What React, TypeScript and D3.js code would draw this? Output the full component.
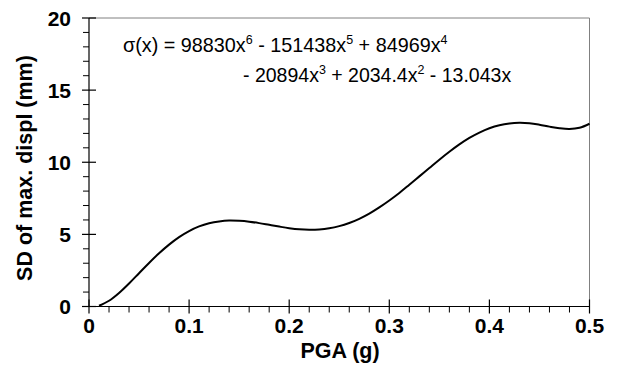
import React from "react";
import * as d3 from "d3";

// Peak ground acceleration (g) and the standard deviation of the maximum displacement (mm)
const pga = [
  0.01, 0.02, 0.03, 0.04, 0.05, 0.06, 0.07, 0.08, 0.09, 0.1,
  0.11, 0.12, 0.13, 0.14, 0.15, 0.16, 0.17, 0.18, 0.19, 0.2,
  0.21, 0.22, 0.23, 0.24, 0.25, 0.26, 0.27, 0.28, 0.29, 0.3,
  0.31, 0.32, 0.33, 0.34, 0.35, 0.36, 0.37, 0.38, 0.39, 0.4,
  0.41, 0.42, 0.43, 0.44, 0.45, 0.46, 0.47, 0.48, 0.49, 0.5,
];
const sdDispl = [
  0.05, 0.4, 0.94, 1.6, 2.31, 3.02, 3.69, 4.29, 4.81, 5.23,
  5.55, 5.77, 5.9, 5.96, 5.94, 5.88, 5.78, 5.66, 5.54, 5.43,
  5.35, 5.32, 5.34, 5.42, 5.57, 5.79, 6.08, 6.44, 6.87, 7.35,
  7.87, 8.44, 9.02, 9.6, 10.18, 10.73, 11.24, 11.69, 12.06, 12.36,
  12.57, 12.69, 12.73, 12.7, 12.6, 12.47, 12.36, 12.31, 12.39, 12.67,
];

const xTicks = [0, 0.1, 0.2, 0.3, 0.4, 0.5];
const yTicks = [0, 5, 10, 15, 20];
const xTitle = "PGA (g)";
const yTitle = "SD of max. displ (mm)";

// Fitted polynomial, written as [coefficient text, power] terms per line
const eqLine1: [string, string][] = [
  ["σ(x) = 98830x", "6"],
  [" - 151438x", "5"],
  [" + 84969x", "4"],
];
const eqLine2: [string, string][] = [
  ["- 20894x", "3"],
  [" + 2034.4x", "2"],
  [" - 13.043x", ""],
];

const W = 621;
const H = 389;
const font = "Arial, 'Liberation Sans', Helvetica, sans-serif";

export default function App() {
  const x = d3.scaleLinear().domain([0, 0.5]).range([89, 589.5]);
  const y = d3.scaleLinear().domain([0, 20]).range([306.5, 18]);

  const pts: [number, number][] = pga.map((p, i) => [p, sdDispl[i]]);
  const line = d3
    .line<[number, number]>()
    .x((d) => x(d[0]))
    .y((d) => y(d[1]))
    .curve(d3.curveCatmullRom.alpha(0.5));

  const xMinor = d3.range(0, 0.5001, 0.02).filter((v) => Math.abs(v / 0.1 - Math.round(v / 0.1)) > 1e-6);
  const yMinor = d3.range(0, 20.001, 1).filter((v) => v % 5 !== 0);

  const [x0, x1] = x.range();
  const [y0, y1] = y.range();

  const renderEq = (terms: [string, string][]) =>
    terms.map(([t, p], i) => (
      <React.Fragment key={i}>
        <tspan dy={i === 0 ? 0 : 8}>{t}</tspan>
        <tspan dy={-8} fontSize={12.5}>
          {p}
        </tspan>
      </React.Fragment>
    ));

  return (
    <svg
      width={W}
      height={H}
      style={{ position: "absolute", left: 0, top: 0, background: "#fff" }}
      fontFamily={font}
    >
      <rect x={0} y={0} width={W} height={H} fill="#fff" />
      {/* frame: top and right edges */}
      <line x1={x0} x2={x1} y1={y1} y2={y1} stroke="#808080" strokeWidth={1} />
      <line x1={x1} x2={x1} y1={y1} y2={y0} stroke="#808080" strokeWidth={1} />

      {/* x axis */}
      <line x1={x0} x2={x1} y1={y0} y2={y0} stroke="#000" strokeWidth={1.2} />
      {xTicks.map((t) => (
        <line key={"xt" + t} x1={x(t)} x2={x(t)} y1={y0 - 7} y2={y0 + 7} stroke="#000" strokeWidth={1.2} />
      ))}
      {xMinor.map((t) => (
        <line key={"xm" + t} x1={x(t)} x2={x(t)} y1={y0} y2={y0 + 6} stroke="#000" strokeWidth={1} />
      ))}
      {xTicks.map((t) => (
        <text
          key={"xl" + t}
          x={x(t)}
          y={333}
          textAnchor="middle"
          fontSize={21}
          fontWeight="bold"
        >
          {t === 0 ? "0" : t.toFixed(1)}
        </text>
      ))}
      <text x={340} y={358} textAnchor="middle" fontSize={21.5} fontWeight="bold">
        {xTitle}
      </text>

      {/* y axis */}
      <line x1={x0} x2={x0} y1={y0} y2={y1} stroke="#000" strokeWidth={1.2} />
      {yTicks.map((t) => (
        <line key={"yt" + t} x1={x0 - 7} x2={x0 + 7} y1={y(t)} y2={y(t)} stroke="#000" strokeWidth={1.2} />
      ))}
      {yMinor.map((t) => (
        <line key={"ym" + t} x1={x0 - 6} x2={x0} y1={y(t)} y2={y(t)} stroke="#000" strokeWidth={1} />
      ))}
      {yTicks.map((t) => (
        <text
          key={"yl" + t}
          x={71}
          y={y(t)}
          dy="0.36em"
          textAnchor="end"
          fontSize={21}
          fontWeight="bold"
        >
          {t}
        </text>
      ))}
      <text
        transform={`translate(32,168) rotate(-90)`}
        textAnchor="middle"
        fontSize={21.5}
        fontWeight="bold"
      >
        {yTitle}
      </text>

      {/* fitted curve */}
      <path d={line(pts) ?? ""} fill="none" stroke="#000" strokeWidth={2} strokeLinejoin="round" />

      {/* polynomial label */}
      <text x={123} y={52} fontSize={19.8}>
        {renderEq(eqLine1)}
      </text>
      <text x={243} y={82} fontSize={19.5}>
        {renderEq(eqLine2)}
      </text>
    </svg>
  );
}
